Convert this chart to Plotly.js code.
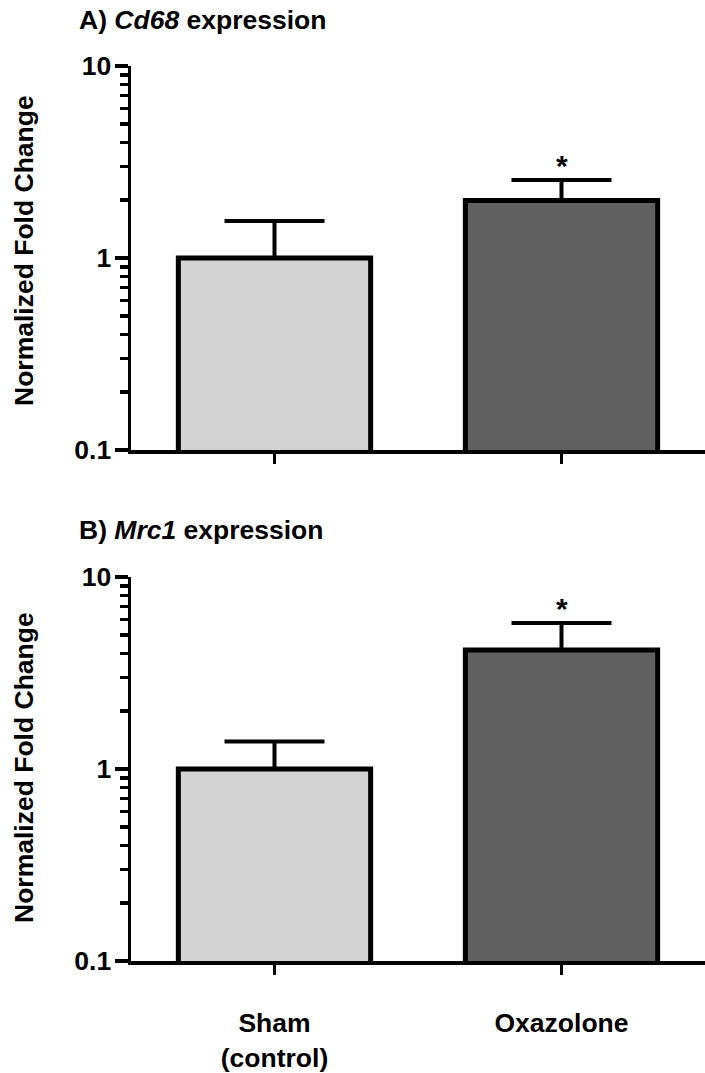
<!DOCTYPE html>
<html>
<head>
<meta charset="utf-8">
<script src="https://cdn.plot.ly/plotly-3.0.1.min.js"></script>
<style>
  html, body { margin: 0; padding: 0; background: #fff; }
  #chart { width: 705px; height: 1073px; }
</style>
</head>
<body>
<div id="chart"></div>
<script>
// ---- data ----
var categories = ['Sham<br>(control)', 'Oxazolone'];
var barColors = ['#d3d3d3', '#606060'];

var cd68Mean = [1.0, 1.99];
var cd68ErrUp = [0.56, 0.56];
var cd68Sig = ['', '*'];

var mrc1Mean = [1.0, 4.17];
var mrc1ErrUp = [0.39, 1.59];
var mrc1Sig = ['', '*'];

var majorTickVals = [0.1, 1, 10];
var majorTickText = ['0.1', '1', '10'];
var minorTickVals = [0.2, 0.3, 0.4, 0.5, 0.6, 0.7, 0.8, 0.9, 2, 3, 4, 5, 6, 7, 8, 9];

var panelTitles = ['A) <i>Cd68</i> expression', 'B) <i>Mrc1</i> expression'];
var yTitle = 'Normalized Fold Change';

// ---- layout helpers ----
var W = 705, H = 1073, L = 131, R = 0;
var PW = W - L - R;
function px2x(px) { return (px - L) / PW; }
function py2y(py) { return (H - py) / H; }

var FONT = 'Liberation Sans, Arial, Helvetica, sans-serif';
var FS = 26.5;

function barTrace(means, errs, xa, ya) {
  return {
    type: 'bar',
    x: categories,
    y: means,
    xaxis: xa,
    yaxis: ya,
    width: 0.67,
    marker: { color: barColors, line: { color: '#000', width: 5 } },
    error_y: {
      type: 'data',
      symmetric: false,
      array: errs,
      arrayminus: means.map(function () { return 0; }),
      color: '#000',
      thickness: 4,
      width: 50
    },
    hoverinfo: 'skip',
    showlegend: false
  };
}

var data = [
  barTrace(cd68Mean, cd68ErrUp, 'x', 'y'),
  barTrace(mrc1Mean, mrc1ErrUp, 'x2', 'y2')
];

function yAxis(domain, anchor) {
  return {
    type: 'log',
    range: [-1, 1],
    domain: domain,
    anchor: anchor,
    tickmode: 'array',
    tickvals: majorTickVals,
    ticktext: majorTickText,
    ticks: 'outside',
    ticklen: 13,
    tickwidth: 3.5,
    tickcolor: '#000',
    showline: true,
    linecolor: '#000',
    linewidth: 3.5,
    showgrid: false,
    zeroline: false,
    ticklabelstandoff: -2,
    tickfont: { family: FONT, size: FS, color: '#000', weight: 'bold' },
    minor: {
      tickmode: 'array',
      tickvals: minorTickVals,
      ticks: 'outside',
      ticklen: 8,
      tickwidth: 3.5,
      tickcolor: '#000',
      showgrid: false
    },
    fixedrange: true,
    automargin: false
  };
}

function xAxis(anchor, showLabels) {
  return {
    type: 'category',
    range: [-0.5, 1.5],
    anchor: anchor,
    domain: [0, 1],
    ticks: 'outside',
    ticklen: 10,
    tickwidth: 3.5,
    tickcolor: '#000',
    showline: true,
    linecolor: '#000',
    linewidth: 3.5,
    showgrid: false,
    zeroline: false,
    showticklabels: showLabels,
    ticklabelstandoff: 26,
    tickfont: { family: FONT, size: FS, color: '#000', weight: 'bold' },
    fixedrange: true,
    automargin: false
  };
}

var domA = [py2y(450), py2y(66)];
var domB = [py2y(961), py2y(577)];

var annotations = [];
// panel titles
annotations.push({
  xref: 'paper', yref: 'paper', x: px2x(77), y: py2y(20),
  xanchor: 'left', yanchor: 'middle', showarrow: false,
  text: '<b>' + panelTitles[0] + '</b>',
  font: { family: FONT, size: FS, color: '#000' }
});
annotations.push({
  xref: 'paper', yref: 'paper', x: px2x(77), y: py2y(530),
  xanchor: 'left', yanchor: 'middle', showarrow: false,
  text: '<b>' + panelTitles[1] + '</b>',
  font: { family: FONT, size: FS, color: '#000' }
});
// y titles
[['y', domA, 251], ['y2', domB, 768]].forEach(function (p) {
  annotations.push({
    xref: 'paper', yref: 'paper', x: px2x(24), y: py2y(p[2]),
    xanchor: 'center', yanchor: 'middle', showarrow: false, textangle: -90,
    text: '<b>' + yTitle + '</b>',
    font: { family: FONT, size: FS, color: '#000' }
  });
});
// significance marks
function addSig(sig, means, errs, xa, ya) {
  sig.forEach(function (s, i) {
    if (!s) return;
    annotations.push({
      xref: xa, yref: ya, x: categories[i], y: Math.log10(means[i] + errs[i]),
      xanchor: 'center', yanchor: 'middle', yshift: 14, showarrow: false,
      text: '<b>' + s + '</b>',
      font: { family: FONT, size: 30, color: '#000' }
    });
  });
}
addSig(cd68Sig, cd68Mean, cd68ErrUp, 'x', 'y');
addSig(mrc1Sig, mrc1Mean, mrc1ErrUp, 'x2', 'y2');

var layout = {
  width: W,
  height: H,
  margin: { l: L, r: R, t: 0, b: 0, pad: 0 },
  paper_bgcolor: '#fff',
  plot_bgcolor: '#fff',
  showlegend: false,
  bargap: 0.33,
  font: { family: FONT, color: '#000' },
  xaxis: xAxis('y', false),
  yaxis: yAxis(domA, 'x'),
  xaxis2: xAxis('y2', true),
  yaxis2: yAxis(domB, 'x2'),
  annotations: annotations
};

Plotly.newPlot('chart', data, layout, { staticPlot: true, displayModeBar: false });
</script>
</body>
</html>
